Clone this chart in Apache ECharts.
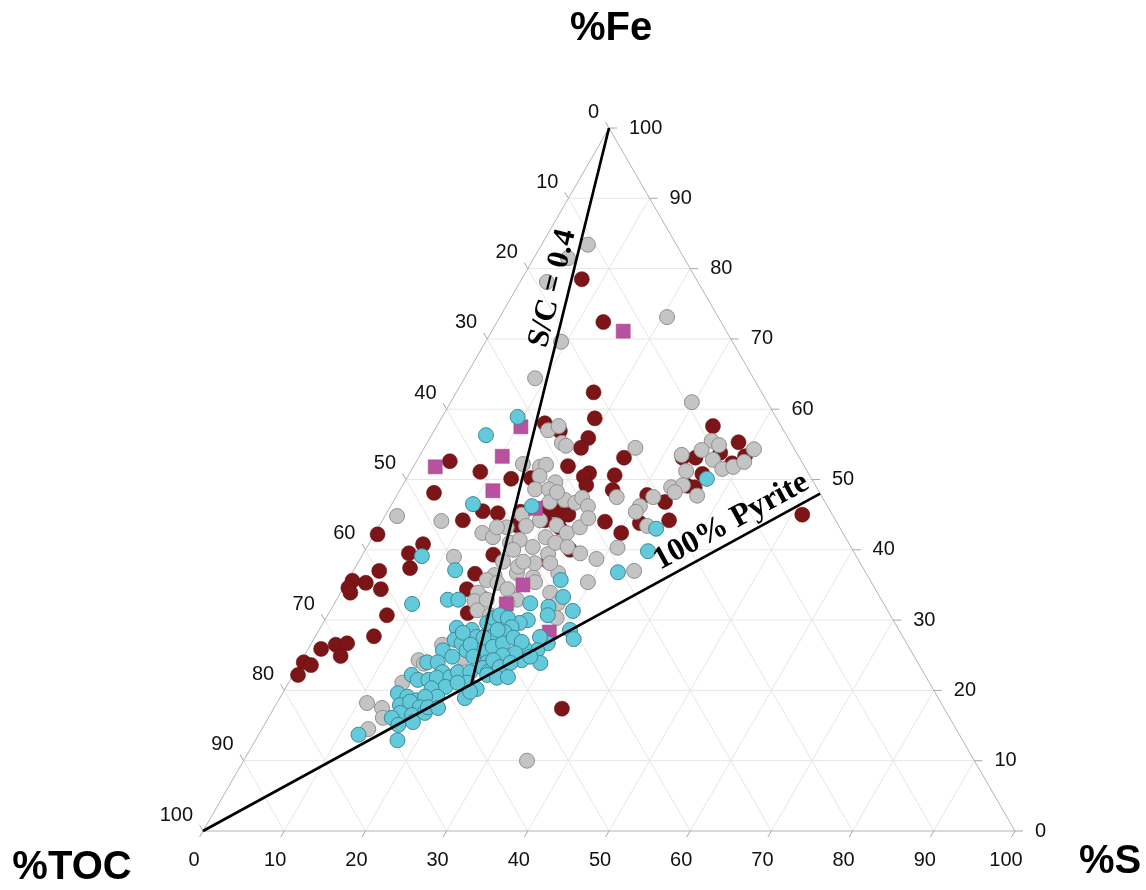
<!DOCTYPE html>
<html>
<head>
<meta charset="utf-8">
<title>TOC - Fe - S ternary diagram</title>
<script src="https://cdn.jsdelivr.net/npm/echarts@6.0.0/dist/echarts.min.js"></script>
<style>
  html, body { margin: 0; padding: 0; background: #ffffff; }
  #chart { width: 1146px; height: 890px; }
</style>
</head>
<body>
<div id="chart"></div>
<script>
// Ternary TOC – Fe – S diagram (values normalised to 100 %).
// Each sample is stored as [S, Fe]; TOC = 100 - S - Fe.

const darkRedSamples = [
  [7.4,78.5],[13.1,72.4],[16.9,62.4],[18.9,58.7],[13.1,58.0],[15.5,56.9],[19.5,55.9],[19.3,54.5],[25.3,53.1],[19.0,51.9],
  [8.6,51.1],[12.9,50.1],[15.3,50.2],[22.1,50.9],[21.7,50.4],[22.6,49.2],[25.4,50.6],[26.2,48.5],[11.7,45.5],[13.7,45.2],
  [19.2,46.1],[20.3,45.7],[21.9,45.0],[22.5,45.0],[20.0,44.2],[22.3,43.2],[27.5,44.0],[30.3,42.4],[16.9,43.5],[16.1,39.3],
  [4.1,52.6],[4.4,48.1],[9.9,44.2],[0.4,42.2],[6.7,40.8],[5.6,39.5],[6.8,37.4],[3.2,37.0],[2.4,35.3],[4.7,34.4],
  [0.6,35.6],[0.6,34.6],[1.2,33.9],[7.3,30.7],[7.2,27.7],[3.1,26.5],[4.4,26.7],[4.5,24.9],[1.6,25.9],[0.4,24.0],
  [1.5,23.6],[0.6,22.2],[15.2,36.6],[15.3,34.4],[17.1,31.0],[17.9,33.1],[34.0,57.6],[38.3,55.3],[34.1,53.1],[36.8,53.8],
  [40.1,53.3],[39.0,52.3],[36.1,50.8],[35.1,49.1],[36.1,48.9],[30.8,47.8],[33.5,46.8],[31.9,43.8],[35.3,44.2],[51.3,45.0],
  [35.5,17.4],[23.4,38.3],[25.2,40.0],[32.5,53.1],[16.4,45.4],[19.2,45.0]
];

const greySamples = [
  [5.7,83.4],[4.2,81.5],[3.3,78.1],[20.6,73.1],[9.3,69.6],[8.7,64.4],[29.7,61.0],
  [14.0,57.0],[15.0,57.6],[16.6,55.2],[17.3,54.8],[13.3,52.2],[15.6,51.8],[16.2,52.1],[16.2,50.5],[18.6,49.6],[16.6,48.6],[18.3,48.6],[27.2,47.5],
  [19.3,46.8],[21.0,47.1],[22.5,46.7],[23.0,47.4],[24.3,46.2],[16.8,45.0],[18.1,43.4],[19.4,44.2],[21.8,43.5],[23.6,42.4],[24.8,43.2],[25.2,44.5],
  [13.2,42.4],[14.8,41.8],[15.8,43.2],[17.3,41.0],[18.3,41.4],[20.4,40.4],[21.3,41.8],[22.8,39.4],[22.9,41.0],[24.7,40.4],[26.7,39.5],[29.1,38.7],[30.9,40.3],
  [1.5,44.8],[7.3,44.1],[11.4,39.0],[17.7,36.4],[17.1,35.7],[16.9,33.9],[17.1,32.7],[18.6,35.3],[20.3,34.4],[20.3,36.7],[22.6,36.1],[21.8,38.1],[25.4,36.7],[29.7,35.4],[18.1,31.4],[20.0,30.7],
  [26.0,54.5],[32.2,53.5],[34.9,55.5],[36.1,54.9],[34.3,54.2],[36.4,52.8],[38.2,51.5],[39.4,51.8],[40.4,52.5],[40.7,54.3],[33.9,51.2],[33.2,48.9],[34.5,49.2],[34.0,48.2],[37.0,47.7],[31.7,47.5],[30.7,46.2],[30.6,45.4],[33.0,43.4],[34.6,37.0],[19.5,48.2],
  [11.1,18.2],[13.3,17.5],[14.1,16.1],[13.1,14.5],[14.0,21.1],[14.4,24.3],[15.3,23.8],[16.2,26.5],[34.9,10.0],[20.0,37.6],[23.7,38.1],[18.5,32.9],[22.2,32.9],[21.3,32.4],[23.2,35.4],[25.8,33.9],[27.5,32.4],[28.4,30.3],[19.7,24.6],
  [14.6,43.2],[18.2,40.0],[20.3,38.3],[17.8,38.3]
];

const cyanSamples = [
  [9.3,58.9],[6.7,56.3],[10.0,46.5],[17.4,46.2],[7.4,39.1],[12.5,37.1],[9.6,32.3],[13.7,32.9],[15.0,32.9],[37.0,50.1],
  [34.3,43.0],[34.9,39.8],[32.7,36.8],[26.2,35.7],[27.7,33.3],[29.9,31.3],[26.6,31.9],[27.1,30.7],[30.9,28.6],[32.0,27.3],
  [24.1,32.4],[25.0,30.0],[24.2,29.6],[29.1,26.7],[27.7,27.6],[28.3,25.7],[26.6,26.0],[27.1,24.3],[29.6,23.9],[27.9,24.8],
  [16.8,28.9],[18.8,28.6],[17.4,27.2],[18.5,26.7],[19.9,27.6],[21.0,27.9],[19.6,25.7],[20.8,25.3],[21.8,25.5],[23.0,24.0],
  [16.7,25.7],[15.6,24.0],[16.9,24.0],[18.3,24.8],[18.2,22.6],[14.6,22.2],[15.7,21.5],[17.0,21.5],[17.9,21.8],[19.5,21.9],
  [20.1,22.6],[19.6,20.5],[18.0,20.3],[19.3,19.1],[14.2,19.6],[15.6,19.1],[17.0,18.6],[17.8,19.1],[21.6,22.6],[22.0,21.1],
  [23.6,20.2],[22.8,18.9],[15.3,17.9],[16.3,18.4],[17.9,17.6],[15.9,16.8],[17.5,16.5],[18.9,16.8],[18.9,17.6],[20.2,17.5],
  [15.2,16.1],[16.5,15.1],[18.1,15.5],[12.3,13.7],[17.5,12.9],[22.9,23.2],[23.8,22.6],[17.9,28.2],[20.2,29.6],[20.6,30.3],
  [21.2,30.7],[22.4,30.3],[23.5,29.0],[23.0,28.3],[22.0,27.9],[20.8,27.5],[19.7,26.5],[20.9,24.8],[22.6,26.2],[23.6,26.7],
  [24.5,27.5],[25.8,26.9],[25.8,25.3],[24.4,25.0],[23.6,24.3],[24.9,23.3],[25.9,23.9],[23.9,22.2],[25.3,21.8],[26.6,21.9],
  [20.8,21.1],[23.0,19.8],[22.0,28.6]
];

const magentaSamples = [
  [16.2,71.1],[10.4,57.5],[10.2,53.3],[2.7,51.8],[11.5,48.4],[18.0,45.9],[21.9,35.0],[21.2,32.3],[28.5,28.3]
];

const tickValues = [0, 10, 20, 30, 40, 50, 60, 70, 80, 90, 100];
const axisTitles = { fe: '%Fe', toc: '%TOC', s: '%S' };

// Reference lines
const scRatio = 0.4;                  // S/C = 0.4 (normal marine)
const pyriteEnd = { s: 52, fe: 48 };  // Fe:S of the pyrite line on the Fe–S edge
const scLabel = 'S/C = 0.4';
const pyriteLabel = '100% Pyrite';

// ---- layout (pixels) ----
const W = 1146, H = 890;
const tri = { left: 203, right: 1015, top: 128, base: 831 };
const kx = (tri.right - tri.left) / 100;
const ky = (tri.base - tri.top) / 100;

// ternary [S, Fe] -> cartesian [x, y] with the TOC apex at the origin
function toXY(s, fe) { return [s + fe / 2, fe]; }

const SANS = '"Liberation Sans", Arial, Helvetica, sans-serif';
const SERIF = '"Liberation Serif", "Times New Roman", Times, serif';

function segmentSeries(segs, color, width, z) {
  return {
    type: 'custom', coordinateSystem: 'cartesian2d', silent: true, z: z,
    animation: false,
    data: segs.map(([a, b]) => toXY(a[0], a[1]).concat(toXY(b[0], b[1]))),
    encode: { x: [0, 2], y: [1, 3] },
    renderItem(params, api) {
      const p1 = api.coord([api.value(0), api.value(1)]);
      const p2 = api.coord([api.value(2), api.value(3)]);
      return {
        type: 'line',
        shape: { x1: p1[0], y1: p1[1], x2: p2[0], y2: p2[1] },
        style: { stroke: color, lineWidth: width, fill: null }
      };
    }
  };
}

function axisSeries(anchorOf, tick, labelOff, align) {
  return {
    type: 'custom', coordinateSystem: 'cartesian2d', silent: true, z: 3,
    animation: false,
    data: tickValues.map(v => { const a = anchorOf(v); return toXY(a[0], a[1]); }),
    encode: { x: 0, y: 1 },
    renderItem(params, api) {
      const p = api.coord([api.value(0), api.value(1)]);
      return {
        type: 'group',
        children: [
          { type: 'line',
            shape: { x1: p[0], y1: p[1], x2: p[0] + tick[0], y2: p[1] + tick[1] },
            style: { stroke: '#a8a8a8', lineWidth: 1 } },
          { type: 'text', x: p[0] + labelOff[0], y: p[1] + labelOff[1],
            style: { text: String(tickValues[params.dataIndex]), font: '20px ' + SANS,
                     fill: '#111111', align: align, verticalAlign: 'middle' } }
        ]
      };
    }
  };
}

function pointSeries(name, pts, symbol, size, fill, border, bw, z) {
  return {
    type: 'scatter', name: name, z: z, symbol: symbol, symbolSize: size,
    animation: false, silent: true,
    data: pts.map(p => toXY(p[0], p[1])),
    itemStyle: { color: fill, borderColor: border, borderWidth: bw, opacity: 1 }
  };
}

// grid lines every 10 %
const gridSegs = [];
tickValues.slice(1, -1).forEach(k => {
  gridSegs.push([[0, k], [100 - k, k]]);        // constant Fe
  gridSegs.push([[k, 0], [k, 100 - k]]);        // constant S
  gridSegs.push([[0, 100 - k], [100 - k, 0]]);  // constant TOC
});
const frameSegs = [[[0, 0], [100, 0]], [[100, 0], [0, 100]], [[0, 100], [0, 0]]];

// S/C line ends on the pyrite line
const sI = 100 / (1 + 1 / scRatio + pyriteEnd.fe / pyriteEnd.s);
const feI = sI * pyriteEnd.fe / pyriteEnd.s;
const scLine = [[0, 100], [sI, feI]];
const pyriteLine = [[0, 0], [pyriteEnd.s, pyriteEnd.fe]];

const c60 = Math.cos(Math.PI / 3), s60 = Math.sin(Math.PI / 3);

const chart = echarts.init(document.getElementById('chart'), null, { renderer: 'canvas' });

const option = {
  backgroundColor: '#ffffff',
  animation: false,
  grid: { left: 0, right: 0, top: 0, bottom: 0, containLabel: false },
  xAxis: { type: 'value', show: false, min: -tri.left / kx, max: (W - tri.left) / kx },
  yAxis: { type: 'value', show: false, min: -(H - tri.base) / ky, max: tri.base / ky },
  series: [
    segmentSeries(gridSegs, '#e6e6e6', 1, 1),
    segmentSeries(frameSegs, '#b4b4b4', 1, 2),
    // %Fe scale on the right edge
    axisSeries(v => [100 - v, v], [8, 0], [20, 0], 'left'),
    // %S scale along the base
    axisSeries(v => [v, 0], [-7 * c60, 7 * s60], [-9, 29], 'center'),
    // %TOC scale on the left edge (0 at the Fe apex)
    axisSeries(v => [0, 100 - v], [-7 * c60, -7 * s60], [-10, -16], 'right'),
    pointSeries('darkred', darkRedSamples, 'circle', 15, '#7b1517', '#6b1113', 0.6, 4),
    pointSeries('grey', greySamples, 'circle', 15, '#c4c4c4', '#919191', 1, 5),
    pointSeries('magenta', magentaSamples, 'rect', 14, '#b8519f', '#a8478f', 0.6, 6),
    pointSeries('cyan', cyanSamples, 'circle', 15, '#63cadb', '#3f8894', 1, 7),
    segmentSeries([scLine, pyriteLine], '#000000', 2.7, 8)
  ]
};
chart.setOption(option);

// labels along the reference lines
function lineLabel(seg, frac, offset, text, fontSize) {
  const a = chart.convertToPixel({ gridIndex: 0 }, toXY(seg[0][0], seg[0][1]));
  const b = chart.convertToPixel({ gridIndex: 0 }, toXY(seg[1][0], seg[1][1]));
  let dx = b[0] - a[0], dy = b[1] - a[1];
  const len = Math.hypot(dx, dy);
  dx /= len; dy /= len;
  const upX = dy, upY = -dx;
  return {
    type: 'text', z: 100,
    x: a[0] + (b[0] - a[0]) * frac + upX * offset,
    y: a[1] + (b[1] - a[1]) * frac + upY * offset,
    rotation: Math.atan2(-dy, dx),
    style: {
      text: text, font: 'bold ' + fontSize + 'px ' + SERIF, fill: '#000',
      align: 'center', verticalAlign: 'middle', textAlign: 'center', textVerticalAlign: 'middle'
    }
  };
}

const scUp = [scLine[1], scLine[0]];   // read from bottom to top
chart.setOption({
  graphic: [
    lineLabel(scUp, 0.705, 16, scLabel, 31),
    lineLabel(pyriteLine, 0.87, 18, pyriteLabel, 32),
    { type: 'text', x: 611, y: 29, style: { text: axisTitles.fe, font: 'bold 40px ' + SANS, fill: '#000',
      align: 'center', verticalAlign: 'middle', textAlign: 'center', textVerticalAlign: 'middle' } },
    { type: 'text', x: 72, y: 868, style: { text: axisTitles.toc, font: 'bold 40px ' + SANS, fill: '#000',
      align: 'center', verticalAlign: 'middle', textAlign: 'center', textVerticalAlign: 'middle' } },
    { type: 'text', x: 1110, y: 862, style: { text: axisTitles.s, font: 'bold 40px ' + SANS, fill: '#000',
      align: 'center', verticalAlign: 'middle', textAlign: 'center', textVerticalAlign: 'middle' } }
  ]
});
</script>
</body>
</html>
